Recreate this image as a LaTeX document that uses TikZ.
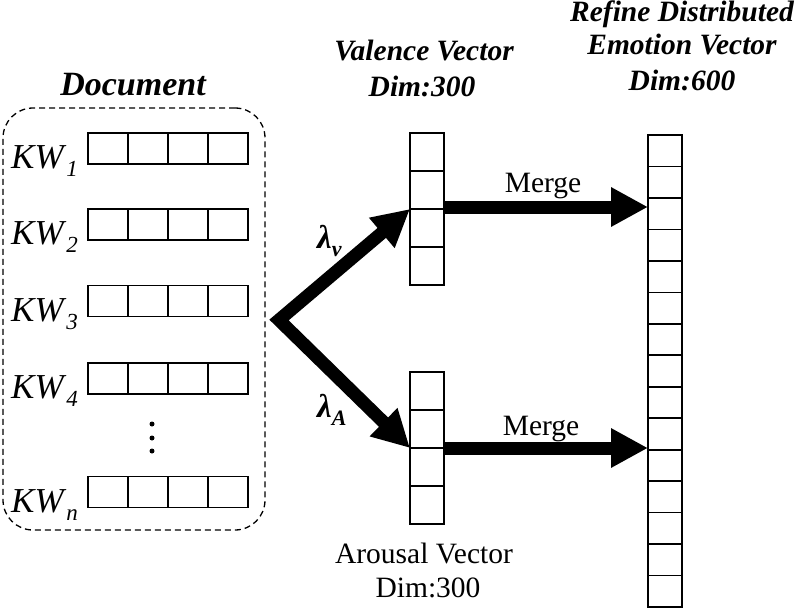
\documentclass[tikz,border=0pt]{standalone}
\usepackage{fontspec}
\setmainfont{Liberation Serif}
\usetikzlibrary{arrows.meta,calc}
\newcommand\kwsub[1]{\textit{KW}\raisebox{-8pt}{\fontsize{23}{23}\selectfont\itshape #1}}
\newcommand\lamsub[1]{\bfseries\itshape λ\raisebox{-8pt}{\fontsize{22}{22}\selectfont #1}}
\begin{document}
\begin{tikzpicture}[x=1pt,y=-1pt,
  cell/.style={draw, line width=1.6pt, minimum width=40pt, minimum height=31pt, inner sep=0pt, outer sep=0pt},
  vcell/.style={draw, line width=1.6pt, minimum width=34pt, minimum height=38pt, inner sep=0pt, outer sep=0pt},
  rcell/.style={draw, line width=1.6pt, minimum width=34pt, minimum height=31.47pt, inner sep=0pt, outer sep=0pt},
  docbox/.style={draw, line width=1.3pt, dash pattern=on 6pt off 4pt, rounded corners=30pt, inner sep=0pt},
  bigarrow/.style={line width=13pt, -{Triangle[length=37pt,width=37pt]}},
  bigarrowboth/.style={line width=13pt, line join=miter, {Triangle[length=37pt,width=37pt]}-{Triangle[length=37pt,width=37pt]}},
  kwlabel/.style={font=\fontsize{35}{35}\selectfont, inner sep=0pt, anchor=base west},
  header/.style={font=\fontsize{29.5}{29.5}\selectfont\bfseries\itshape, inner sep=0pt, anchor=base},
  plain/.style={font=\fontsize{29.5}{29.5}\selectfont, inner sep=0pt, anchor=base},
  dot/.style={circle, fill, inner sep=0pt, minimum size=5pt}
]
\useasboundingbox (0,0) rectangle (800,610);

% Document box
\node[docbox, minimum width=262pt, minimum height=422pt] (doc) at (134,319) {};
\node[header, font=\fontsize{34}{34}\selectfont\bfseries\itshape] (doctitle) at (133,95) {Document};

% keyword rows
\foreach \i/\y in {1/148.5, 2/224.5, 3/301, 4/378.5, n/492}{
  \foreach \j in {1,...,4}{
    \node[cell] (k\i-\j) at ({68+40*\j},\y) {};
  }
  \node[kwlabel] (kw\i) at ({11},{\y+20}) {\kwsub{\i}};
}
\node[dot] (d1) at (152,424) {};
\node[dot] (d2) at (152,438) {};
\node[dot] (d3) at (152,451) {};

% valence and arousal vectors
\foreach \k in {1,...,4}{
  \node[vcell] (v\k) at (427,{114+38*\k}) {};
  \node[vcell] (a\k) at (427,{353+38*\k}) {};
}
\node[header] (vt1) at (424,60) {Valence Vector};
\node[header] (vt2) at (422,96) {Dim:300};
\node[plain] (at1) at (424,563) {Arousal Vector};
\node[plain] (at2) at (428,597) {Dim:300};

% refined vector
\foreach \k in {1,...,15}{
  \node[rcell] (r\k) at (665,{135-15.735+31.47*\k}) {};
}
\node[header] (rt1) at (682,22) {Refine Distributed};
\node[header] (rt2) at (682,55) {Emotion Vector};
\node[header] (rt3) at (682,90) {Dim:600};

% branching arrows
\coordinate (apex) at (279,320);
\draw[bigarrowboth] (v2.south west) -- (apex) -- (a2.south west);
\node[font=\fontsize{33}{33}\selectfont, inner sep=0pt, anchor=base west] (lv) at (317,248) {\lamsub{v}};
\node[font=\fontsize{33}{33}\selectfont, inner sep=0pt, anchor=base west] (la) at (317,417) {\lamsub{A}};

% merge arrows
\coordinate (mv) at ($(v2.south east)+(0,-2)$);
\coordinate (ma) at (a2.south east);
\draw[bigarrow] (mv) -- (mv -| r1.west);
\draw[bigarrow] (ma) -- (ma -| r1.west);
\node[plain] (m1) at (543,192) {Merge};
\node[plain] (m2) at (541,435) {Merge};
\end{tikzpicture}
\end{document}
